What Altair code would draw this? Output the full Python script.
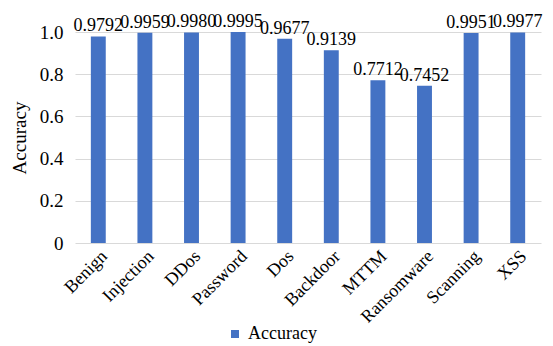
import altair as alt
import pandas as pd

categories = ["Benign", "Injection", "DDos", "Password", "Dos", "Backdoor",
              "MTTM", "Ransomware", "Scanning", "XSS"]
accuracy = [0.9792, 0.9959, 0.9980, 0.9995, 0.9677, 0.9139,
            0.7712, 0.7452, 0.9951, 0.9977]

df = pd.DataFrame({"category": categories, "value": accuracy,
                   "series": ["Accuracy"] * len(categories)})

FONT = "Liberation Serif, Times New Roman, serif"
BLUE = "#4472C4"

x = alt.X("category:N", sort=categories, title=None,
          scale=alt.Scale(paddingInner=0.68, paddingOuter=0.34),
          axis=alt.Axis(labelAngle=-45, labelFontSize=18, labelFont=FONT,
                        labelColor="#000", domain=False, ticks=False,
                        labelPadding=4, labelAlign="right", labelBaseline="top"))
y = alt.Y("value:Q", title="Accuracy",
          scale=alt.Scale(domain=[0, 1], nice=False),
          axis=alt.Axis(values=[0, 0.2, 0.4, 0.6, 0.8, 1.0],
                        labelExpr="datum.value == 0 ? '0' : format(datum.value, '.1f')",
                        labelFontSize=19, labelFont=FONT, labelColor="#000",
                        labelPadding=12, domain=False, ticks=False,
                        gridColor="#D9D9D9", titleFont=FONT, titleFontSize=19,
                        titleFontWeight="normal", titleColor="#000", titlePadding=10))

bars = alt.Chart(df).mark_bar(color=BLUE).encode(
    x=x, y=y,
    color=alt.Color("series:N", scale=alt.Scale(range=[BLUE]), title=None,
                    legend=alt.Legend(orient="none", legendX=151, legendY=293,
                                      symbolType="square", symbolSize=64,
                                      labelFont=FONT, labelFontSize=18,
                                      labelColor="#000", symbolStrokeWidth=0)),
)

labels = alt.Chart(df).mark_text(font=FONT, fontSize=18, baseline="bottom",
                                 dy=-1, color="#000").encode(
    x=alt.X("category:N", sort=categories),
    y=alt.Y("value:Q"),
    text=alt.Text("value:Q", format=".4f"),
)

chart = (bars + labels).properties(
    width=466, height=211,
    autosize=alt.AutoSizeParams(type="none"),
    padding={"left": 75, "top": 32, "right": 12, "bottom": 103},
).configure(font=FONT).configure_view(stroke=None)

chart.save("out.html", embed_options={"renderer": "svg", "actions": False})
